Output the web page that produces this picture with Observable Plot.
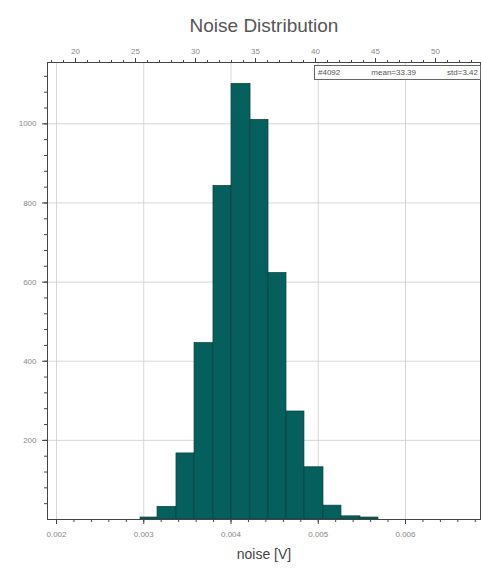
<!DOCTYPE html>
<html>
<head>
<meta charset="utf-8">
<script src="https://cdn.jsdelivr.net/npm/d3@7"></script>
<script src="https://cdn.jsdelivr.net/npm/@observablehq/plot@0.6"></script>
<style>
  html, body { margin: 0; padding: 0; background: #fff; }
  #wrap { position: relative; width: 481px; height: 570px; overflow: hidden; }
  #legend {
    position: absolute; left: 314px; top: 65px; width: 160px; height: 13px;
    border: 1px solid #666; background: #fff; padding: 0 2px 0 3px;
    font: 8px "Liberation Sans", Arial, sans-serif; color: #555;
    line-height: 13px; white-space: nowrap;
    display: flex; justify-content: space-between;
  }
</style>
</head>
<body>
<div id="wrap"></div>
<script>
// Histogram bins (lower edge, upper edge in volts) and counts
const binLo  = [0.002963, 0.003158, 0.003375, 0.003582, 0.003799, 0.004006, 0.004224, 0.004430, 0.004636, 0.004842, 0.005060, 0.005266, 0.005484];
const binHi  = [0.003158, 0.003375, 0.003582, 0.003799, 0.004006, 0.004224, 0.004430, 0.004636, 0.004842, 0.005060, 0.005266, 0.005484, 0.005690];
const counts = [5, 32, 167, 446, 843, 1101, 1010, 623, 273, 132, 35, 8, 5];

const xTicks = [0.002, 0.003, 0.004, 0.005, 0.006];
const yTicks = [200, 400, 600, 800, 1000];
const topTicks = [20, 25, 30, 35, 40, 45, 50];
const legendParts = ["#4092", "mean=33.39", "std=3.42"];

// secondary (top) axis calibration: top unit -> volts
const topSlope = 0.00013754, topAt20 = 0.0022178;
const topToV = u => topAt20 + (u - 20) * topSlope;
const vToTop = v => (v - topAt20) / topSlope + 20;

const xDomain = [0.0018968, 0.0068596];
const yDomain = [0, 1155];

const bins = binLo.map((lo, i) => ({lo, hi: binHi[i], n: counts[i]}));
const xMinor = d3.range(0.0018, 0.0069, 0.0002).filter(v => v >= xDomain[0] && v <= xDomain[1]);
const yMinor = d3.range(40, 1155, 40);
const topMinor = d3.range(17, 54, 1).map(topToV).filter(v => v >= xDomain[0] && v <= xDomain[1]);

const font = "'Liberation Sans', Arial, sans-serif";

const chart = Plot.plot({
  width: 481,
  height: 570,
  marginLeft: 47,
  marginRight: 1,
  marginTop: 62,
  marginBottom: 51,
  style: {fontFamily: font, fontSize: "8px", color: "#777", background: "#fff"},
  x: {domain: xDomain},
  y: {domain: yDomain},
  marks: [
    Plot.gridX(xTicks, {stroke: "#ccc", strokeOpacity: 1, strokeWidth: 0.8}),
    Plot.gridY(yTicks, {stroke: "#ccc", strokeOpacity: 1, strokeWidth: 0.8}),
    Plot.rectY(bins, {x1: "lo", x2: "hi", y: "n", fill: "#055f5c", stroke: "#0d3f3d", strokeWidth: 0.7}),
    Plot.frame({stroke: "#444", strokeWidth: 1}),
    // bottom axis
    Plot.axisX({ticks: xMinor, tickSize: 3, tickFormat: () => "", stroke: "#444", label: null}),
    Plot.axisX({ticks: xTicks, tickSize: 5, tickPadding: 7, tickFormat: d3.format(".3f"), stroke: "#444", fill: "#888",
      label: "noise [V]", labelAnchor: "center", labelArrow: "none", labelOffset: 39}),
    // left axis
    Plot.axisY({ticks: yMinor, tickSize: 3, tickFormat: () => "", stroke: "#444", label: null}),
    Plot.axisY({ticks: yTicks, tickSize: 5, tickPadding: 6, tickFormat: d => String(d), fill: "#888", stroke: "#444", label: null}),
    // top (secondary) axis
    Plot.axisX({anchor: "top", ticks: topMinor, tickSize: 3, tickFormat: () => "", stroke: "#444", label: null}),
    Plot.axisX({anchor: "top", ticks: topTicks.map(topToV), tickSize: 5, tickPadding: 4,
      tickFormat: v => String(Math.round(vToTop(v))), fill: "#888", stroke: "#444", label: null}),
    // title
    Plot.text(["Noise Distribution"], {frameAnchor: "top", dy: -44, fontSize: 19, fill: "#555", fontFamily: font})
  ]
});

const wrap = document.getElementById("wrap");
wrap.appendChild(chart);
chart.querySelectorAll("text").forEach(t => {
  if (t.textContent === "noise [V]") { t.setAttribute("font-size", "14"); t.setAttribute("fill", "#444"); }
});
const leg = document.createElement("div");
leg.id = "legend";
legendParts.forEach(p => { const s = document.createElement("span"); s.textContent = p; leg.appendChild(s); });
wrap.appendChild(leg);
</script>
</body>
</html>
